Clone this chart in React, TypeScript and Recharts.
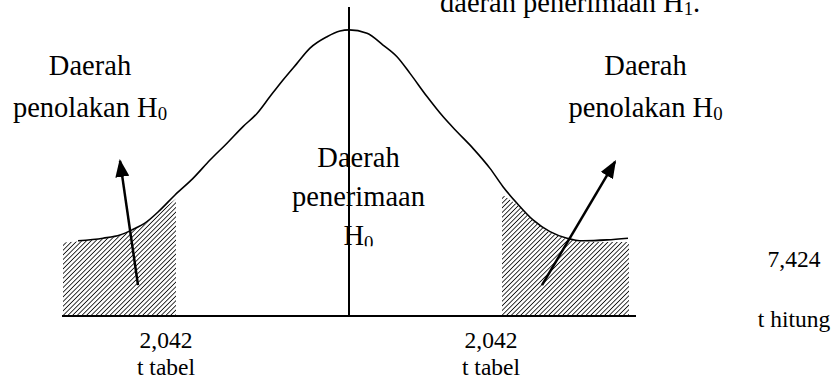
import React from "react";
import {
  ComposedChart, Line, Area, XAxis, YAxis, ReferenceLine, ReferenceDot,
} from "recharts";

// curve of the t distribution, hand drawn (x: horizontal position, y: % of peak)
const curveX = [-27.1, -24.6, -22.9, -21.7, -20.2, -18.9, -17.4, -15.6, -13.9, -12.2, -10.6, -9.2, -7.9, -6.6, -5.2, -3.9, -2.2, -0.9, 0, 1.8, 3.4, 4.8, 6.1, 7.8, 9.4, 10.8, 12.4, 14.1, 15.4, 16.8, 18.4, 20.1, 21.8, 23.4, 25.8, 27.9];
const curveY = [26.3, 27.2, 28.3, 30.1, 33.0, 37.0, 42.3, 48.1, 54.5, 60.4, 66.2, 70.8, 76.7, 82.5, 88.3, 93.6, 97.6, 99.6, 100, 98.8, 94.7, 90.6, 84.8, 76.7, 69.7, 64.4, 58.6, 51.6, 45.2, 39.4, 33.6, 29.5, 27.2, 26.3, 26.6, 27.2];

// hatched rejection regions
const leftShadeX = [-28.6, -27.1, -24.6, -22.9, -21.7, -20.2, -18.9, -17.3];
const leftShadeY = [25.7, 26.0, 26.9, 28.0, 29.8, 32.6, 36.5, 41.0];
const rightShadeX = [15.3, 16.8, 18.4, 20.1, 21.8, 23.4, 25.8, 28.0];
const rightShadeY = [42.5, 39.0, 33.2, 29.1, 26.8, 25.9, 25.9, 25.9];

const baseEnds = [-28.7, 28.7];

// arrows: [tail, tip]
const leftArrow = [{ x: -21.1, y: 10.8 }, { x: -22.9, y: 54.2 }];
const rightArrow = [{ x: 19.3, y: 10.8 }, { x: 26.6, y: 53.9 }];

// axis labels
const tickX = [-18.3, 14.2, 44.5];
const tickTop = ["2,042", "2,042", "7,424"];
const tickBottom = ["t tabel", "t tabel", "t hitung"];

const noteSide = ["Daerah", "penolakan H_0"];
const noteMid = ["Daerah", "penerimaan", "H_0"];
const noteTop = ["daerah penerimaan H_1."];

const toPoints = (xs: number[], ys: number[]) => xs.map((x, i) => ({ x, y: ys[i] }));
const curve = toPoints(curveX, curveY);
const leftShade = toPoints(leftShadeX, leftShadeY);
const rightShade = toPoints(rightShadeX, rightShadeY);

const FONT = "'Liberation Serif', 'Times New Roman', serif";

function rich(str: string, size: number) {
  const i = str.indexOf("_");
  if (i < 0) return str;
  const shift = size * 0.12;
  return [
    <tspan key="a">{str.slice(0, i)}</tspan>,
    <tspan key="b" fontSize={size * 0.66} dy={shift}>{str[i + 1]}</tspan>,
    str.length > i + 2 ? <tspan key="c" dy={-shift}>{str.slice(i + 2)}</tspan> : null,
  ];
}

function noteShape(lines: string[], gap: number, anchor: "middle" | "start", clipId?: string, clipBottom?: number) {
  return (p: any) => {
    const { cx, cy } = p;
    const body = lines.map((l, i) => (
      <text key={i} x={cx} y={cy + i * gap} textAnchor={anchor} fontFamily={FONT} fontSize={28.5} fill="#000">
        {rich(l, 28.5)}
      </text>
    ));
    if (!clipId) return <g>{body}</g>;
    return (
      <g>
        <defs>
          <clipPath id={clipId}>
            <rect x={cx - 100} y={cy - 40} width={200} height={40 + (clipBottom ?? 0)} />
          </clipPath>
        </defs>
        <g clipPath={`url(#${clipId})`}>{body}</g>
      </g>
    );
  };
}

function TTick({ x, y, index }: any) {
  const hitung = index === tickX.length - 1;
  return (
    <g fontFamily={FONT} fontSize={23.5} fill="#000">
      <text x={x} y={y + (hitung ? -49 : 32)} textAnchor="middle">{tickTop[index]}</text>
      <text x={x} y={y + (hitung ? 11 : 59)} textAnchor="middle">{tickBottom[index]}</text>
    </g>
  );
}

export default function App() {
  return (
    <div style={{ position: "absolute", left: 0, top: 0, width: 835, height: 379, background: "#fff" }}>
      <ComposedChart width={835} height={379} margin={{ top: 7, right: 0, bottom: 0, left: 0 }}>
        <defs>
          <pattern id="hatch" width="3.3" height="3.3" patternUnits="userSpaceOnUse" patternTransform="rotate(45)">
            <line x1="0" y1="0" x2="0" y2="3.3" stroke="#111" strokeWidth="1.7" />
          </pattern>
          <marker id="arrowHead" markerWidth="18" markerHeight="14" refX="16" refY="7" orient="auto" markerUnits="userSpaceOnUse">
            <path d="M0,0 L18,7 L0,14 z" fill="#000" />
          </marker>
        </defs>
        <XAxis
          type="number" dataKey="x" domain={[-34.9, 48.6]} allowDataOverflow
          ticks={tickX} interval={0} height={63}
          axisLine={false} tickLine={false} tickSize={0} tickMargin={0}
          tick={<TTick />}
        />
        <YAxis type="number" dataKey="y" domain={[0, 108]} allowDataOverflow hide />

        <Area data={leftShade} dataKey="y" type="linear" stroke="none" fill="url(#hatch)" fillOpacity={1} isAnimationActive={false} />
        <Area data={rightShade} dataKey="y" type="linear" stroke="none" fill="url(#hatch)" fillOpacity={1} isAnimationActive={false} />
        <Line data={curve} dataKey="y" type="monotone" stroke="#000" strokeWidth={1.6} dot={false} isAnimationActive={false} />

        <ReferenceLine segment={[{ x: baseEnds[0], y: 0 }, { x: baseEnds[1], y: 0 }]} stroke="#000" strokeWidth={2} />
        <ReferenceLine x={0} stroke="#000" strokeWidth={2} />

        <Line data={leftArrow} dataKey="y" type="linear" stroke="#000" strokeWidth={2.5} dot={false} markerEnd="url(#arrowHead)" isAnimationActive={false} />
        <Line data={rightArrow} dataKey="y" type="linear" stroke="#000" strokeWidth={2.5} dot={false} markerEnd="url(#arrowHead)" isAnimationActive={false} />

        <ReferenceDot x={-25.9} y={84.2} r={0} shape={noteShape(noteSide, 41.7, "middle")} />
        <ReferenceDot x={29.65} y={84.2} r={0} shape={noteShape(noteSide, 41.7, "middle")} />
        <ReferenceDot x={0.95} y={52.0} r={0} shape={noteShape(noteMid, 39, "middle", "midClip", 79)} />
        <ReferenceDot x={9.1} y={106.3} r={0} shape={noteShape(noteTop, 0, "start")} />
      </ComposedChart>
    </div>
  );
}
